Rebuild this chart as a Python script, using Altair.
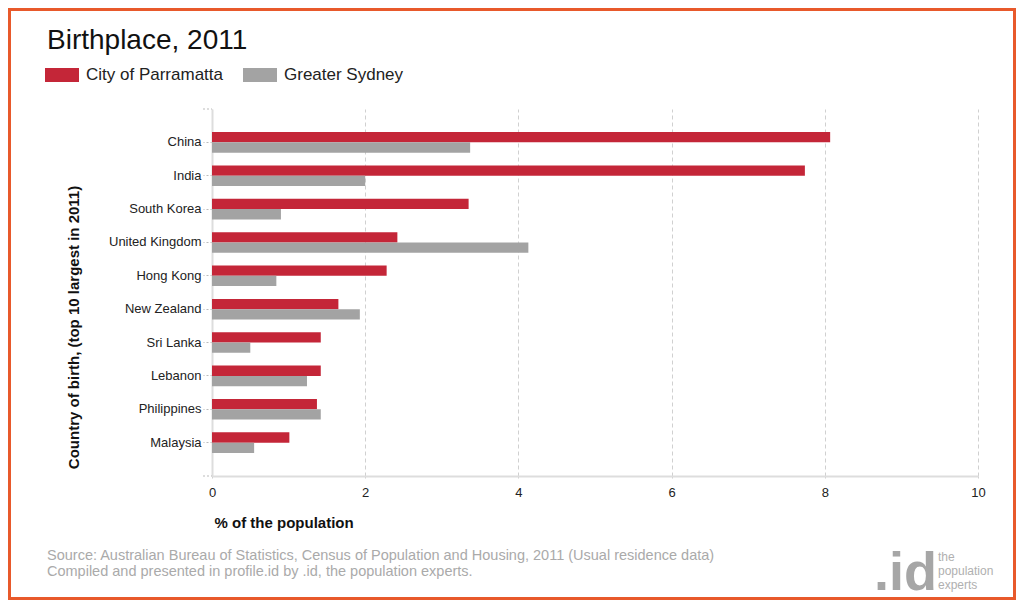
import altair as alt
import pandas as pd

countries = ["China", "India", "South Korea", "United Kingdom", "Hong Kong",
             "New Zealand", "Sri Lanka", "Lebanon", "Philippines", "Malaysia"]
parramatta = [8.07, 7.74, 3.35, 2.42, 2.28, 1.65, 1.42, 1.42, 1.37, 1.01]
sydney = [3.37, 2.00, 0.90, 4.13, 0.84, 1.93, 0.50, 1.24, 1.42, 0.55]
series = ["City of Parramatta", "Greater Sydney"]
colors = ["#c42638", "#a3a3a3"]
x_ticks = [0, 2, 4, 6, 8, 10]

title_text = "Birthplace, 2011"
source_lines = [
    "Source: Australian Bureau of Statistics, Census of Population and Housing, 2011 (Usual residence data)",
    "Compiled and presented in profile.id by .id, the population experts.",
]
logo_main = ".id"
logo_words = ["the", "population", "experts"]

FONT = "Liberation Sans"

rows = []
for c, p, s in zip(countries, parramatta, sydney):
    rows.append({"country": c, "series": series[0], "value": p})
    rows.append({"country": c, "series": series[1], "value": s})
df = pd.DataFrame(rows)

W, H = 766, 367
PAD = {"left": 204, "top": 101, "right": 38, "bottom": 124}

bars = alt.Chart(df).mark_bar().encode(
    x=alt.X("value:Q", scale=alt.Scale(domain=[0, 10], nice=False),
            axis=alt.Axis(values=x_ticks, title="% of the population",
                          titleX=2, titleY=51, titleAlign="left",
                          titleBaseline="alphabetic", titleAnchor="start",
                          titleFontSize=15, titleFontWeight="bold", titleColor="#111",
                          titleFont=FONT,
                          grid=True, gridDash=[4, 3], gridColor="#d0d0d0", gridWidth=1,
                          domainColor="#dddddd", domainWidth=2,
                          tickColor="#cccccc", tickSize=4, tickDash=[2, 2],
                          labelFontSize=13, labelPadding=6, labelColor="#222",
                          labelFont=FONT, labelFlush=False, format="d")),
    y=alt.Y("country:N", sort=countries,
            scale=alt.Scale(paddingInner=0, paddingOuter=0.5),
            axis=alt.Axis(title="Country of birth, (top 10 largest in 2011)",
                          titleAngle=270, titleX=-134, titleY=218,
                          titleAlign="center", titleBaseline="alphabetic",
                          titleFontSize=15, titleFontWeight="bold", titleColor="#111",
                          titleFont=FONT,
                          grid=False, domainColor="#dddddd", domainWidth=2,
                          tickColor="#bbbbbb", tickDash=[2, 2], tickSize=9,
                          labelPadding=2, labelFontSize=13, labelColor="#222",
                          labelFont=FONT)),
    yOffset=alt.YOffset("series:N", sort=series,
                        scale=alt.Scale(paddingInner=0, paddingOuter=0.62)),
    color=alt.Color("series:N", sort=series,
                    scale=alt.Scale(domain=series, range=colors),
                    legend=alt.Legend(orient="none", legendX=-167, legendY=-51,
                                      direction="horizontal", title=None,
                                      symbolType="M-1,-0.41H1V0.41H-1Z",
                                      symbolSize=1156, symbolStrokeWidth=0,
                                      symbolOpacity=1, padding=0,
                                      labelFontSize=17, labelFont=FONT,
                                      labelColor="#222", labelOffset=7,
                                      columnPadding=20)),
)


def text_layer(txt, x, y, size, color, weight="normal", align="left"):
    return alt.Chart(pd.DataFrame({"t": [txt]})).mark_text(
        align=align, baseline="alphabetic", fontSize=size, font=FONT,
        color=color, fontWeight=weight,
    ).encode(x=alt.value(x), y=alt.value(y), text="t:N")


title = text_layer(title_text, -165, -60, 28, "#111")
src1 = text_layer(source_lines[0], -165, 451, 14.5, "#aaaaaa")
src2 = text_layer(source_lines[1], -165, 467, 14.5, "#aaaaaa")
logo = text_layer(logo_main, 662, 481, 54, "#a6a6a6", weight="bold")
lw1 = text_layer(logo_words[0], 726, 452, 12, "#b0b0b0")
lw2 = text_layer(logo_words[1], 726, 466, 12, "#b0b0b0")
lw3 = text_layer(logo_words[2], 726, 480, 12, "#b0b0b0")

edge_ticks = alt.Chart(pd.DataFrame({"k": [0]})).mark_rule(
    color="#bbbbbb", strokeDash=[2, 2], strokeWidth=1
).encode(x=alt.value(-9), x2=alt.value(0), y=alt.value(0))
edge_ticks2 = alt.Chart(pd.DataFrame({"k": [0]})).mark_rule(
    color="#bbbbbb", strokeDash=[2, 2], strokeWidth=1
).encode(x=alt.value(-9), x2=alt.value(0), y=alt.value(H))

border = alt.Chart(pd.DataFrame({"k": [0]})).mark_rect(
    fillOpacity=0, stroke="#e8592b", strokeWidth=3
).encode(x=alt.value(-PAD["left"] + 1.5), x2=alt.value(W + PAD["right"] - 1.5),
         y=alt.value(-PAD["top"] + 1.5), y2=alt.value(H + PAD["bottom"] - 1.5))

chart = alt.layer(
    border, edge_ticks, edge_ticks2, bars, title, src1, src2, logo, lw1, lw2, lw3
).properties(
    width=W, height=H, padding=PAD,
    autosize=alt.AutoSizeParams(type="none"),
    background="white",
).configure_view(stroke=None)

chart.save("out.html", embed_options={"renderer": "svg", "actions": False})
